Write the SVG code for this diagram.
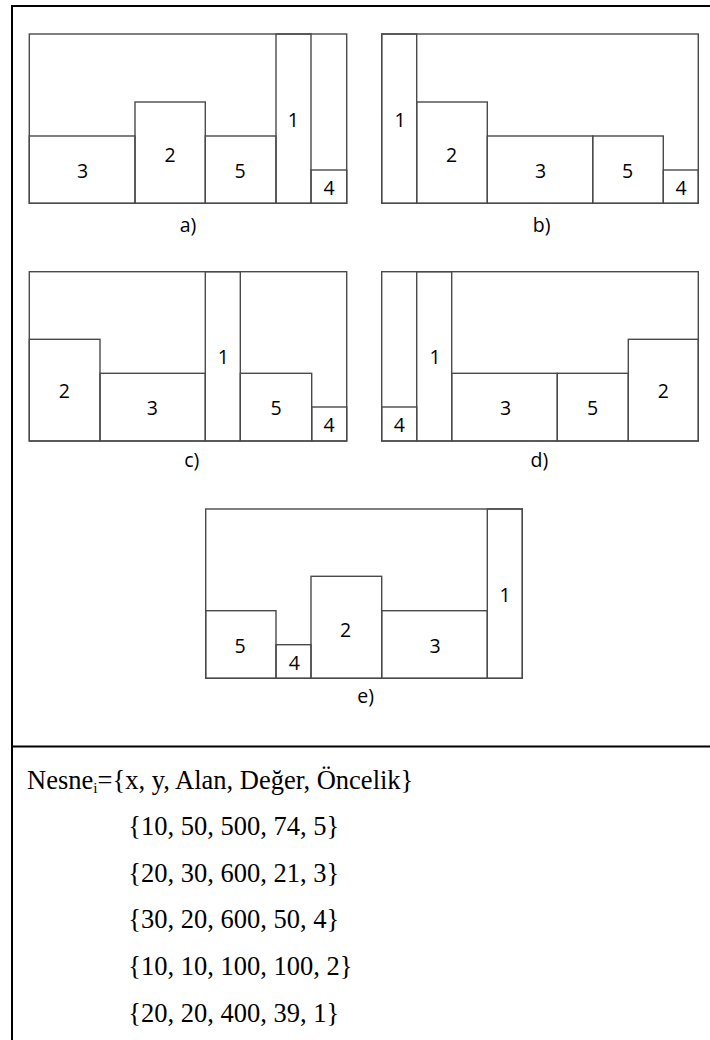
<svg xmlns="http://www.w3.org/2000/svg" width="710" height="1040" viewBox="0 0 710 1040">
  <style>
    .frame { fill: none; stroke: #000; stroke-width: 2; }
    .box { fill: none; stroke: #4a4a4a; stroke-width: 1.4; }
    .num { font-family: "Open Sans", "Liberation Sans", sans-serif; font-size: 19.5px; fill: #000; text-anchor: middle; }
    .cap { font-family: "Open Sans", "Liberation Sans", sans-serif; font-size: 19.5px; fill: #000; text-anchor: middle; }
    .data { font-family: "Liberation Serif", "Times New Roman", serif; font-size: 26.5px; fill: #000; }
  </style>
  <rect width="710" height="1040" fill="#fff"/>

  <!-- table frame -->
  <g id="frame">
    <line class="frame" x1="12" y1="6" x2="710" y2="6"/>
    <line class="frame" x1="12" y1="5" x2="12" y2="1040"/>
    <line class="frame" x1="12" y1="746.5" x2="710" y2="746.5"/>
  </g>

  <!-- layout a -->
  <g id="layout-a">
    <rect class="box" x="29.3" y="34" width="317.4" height="169.3"/>
    <rect class="box" x="29.3" y="136" width="105.7" height="67.3"/>
    <rect class="box" x="135" y="102" width="70.3" height="101.3"/>
    <rect class="box" x="205.3" y="136" width="70.7" height="67.3"/>
    <rect class="box" x="276" y="34" width="35" height="169.3"/>
    <rect class="box" x="311" y="170" width="35.7" height="33.3"/>
    <text class="num" x="82.7" y="178">3</text>
    <text class="num" x="170" y="161.7">2</text>
    <text class="num" x="240" y="178">5</text>
    <text class="num" x="293.3" y="127">1</text>
    <text class="num" x="329" y="195">4</text>
    <text class="cap" x="188" y="232">a)</text>
  </g>

  <!-- layout b -->
  <g id="layout-b">
    <rect class="box" x="381.7" y="34" width="316.6" height="169.3"/>
    <rect class="box" x="381.7" y="34" width="35" height="169.3"/>
    <rect class="box" x="416.7" y="102" width="70.6" height="101.3"/>
    <rect class="box" x="487.3" y="136" width="105.4" height="67.3"/>
    <rect class="box" x="592.7" y="136" width="70.6" height="67.3"/>
    <rect class="box" x="663.3" y="170" width="35" height="33.3"/>
    <text class="num" x="400" y="127">1</text>
    <text class="num" x="451.7" y="161.7">2</text>
    <text class="num" x="540.7" y="178">3</text>
    <text class="num" x="627.7" y="178">5</text>
    <text class="num" x="681" y="195">4</text>
    <text class="cap" x="541.7" y="232">b)</text>
  </g>

  <!-- layout c -->
  <g id="layout-c">
    <rect class="box" x="29.3" y="271.7" width="317.4" height="169.3"/>
    <rect class="box" x="29.3" y="339.3" width="70.7" height="101.7"/>
    <rect class="box" x="100" y="373.3" width="105.3" height="67.7"/>
    <rect class="box" x="205.3" y="271.7" width="35" height="169.3"/>
    <rect class="box" x="240.3" y="373.3" width="71.4" height="67.7"/>
    <rect class="box" x="311.7" y="407" width="35" height="34"/>
    <text class="num" x="64.3" y="398.3">2</text>
    <text class="num" x="152.3" y="415">3</text>
    <text class="num" x="223.3" y="364">1</text>
    <text class="num" x="276" y="415">5</text>
    <text class="num" x="329" y="432.3">4</text>
    <text class="cap" x="191.7" y="467">c)</text>
  </g>

  <!-- layout d -->
  <g id="layout-d">
    <rect class="box" x="381.7" y="271.7" width="316.6" height="169.3"/>
    <rect class="box" x="381.7" y="407" width="35" height="34"/>
    <rect class="box" x="416.7" y="271.7" width="35" height="169.3"/>
    <rect class="box" x="451.7" y="373.3" width="105.6" height="67.7"/>
    <rect class="box" x="557.3" y="373.3" width="71" height="67.7"/>
    <rect class="box" x="628.3" y="339.3" width="70" height="101.7"/>
    <text class="num" x="399.3" y="432.3">4</text>
    <text class="num" x="435" y="364">1</text>
    <text class="num" x="505.7" y="415">3</text>
    <text class="num" x="592.7" y="415">5</text>
    <text class="num" x="663.3" y="398.3">2</text>
    <text class="cap" x="539.3" y="467">d)</text>
  </g>

  <!-- layout e -->
  <g id="layout-e">
    <rect class="box" x="205.7" y="509" width="316.6" height="169.3"/>
    <rect class="box" x="205.7" y="610.7" width="70.3" height="67.6"/>
    <rect class="box" x="276" y="644.7" width="35" height="33.6"/>
    <rect class="box" x="311" y="576.3" width="70.7" height="102"/>
    <rect class="box" x="381.7" y="610.7" width="105.6" height="67.6"/>
    <rect class="box" x="487.3" y="509" width="35" height="169.3"/>
    <text class="num" x="240" y="653.3">5</text>
    <text class="num" x="294.3" y="670">4</text>
    <text class="num" x="345.7" y="636.7">2</text>
    <text class="num" x="435" y="653.3">3</text>
    <text class="num" x="505" y="602.3">1</text>
    <text class="cap" x="365.7" y="703">e)</text>
  </g>

  <!-- item records -->
  <g id="items">
    <text class="data" x="27" y="789.3">Nesne<tspan font-size="15.5" dy="4">i</tspan><tspan dy="-4">={x, y, Alan, Değer, Öncelik}</tspan></text>
    <text class="data" x="128.3" y="835">{10, 50, 500, 74, 5}</text>
    <text class="data" x="128.3" y="881.7">{20, 30, 600, 21, 3}</text>
    <text class="data" x="128.3" y="928.3">{30, 20, 600, 50, 4}</text>
    <text class="data" x="128.3" y="975">{10, 10, 100, 100, 2}</text>
    <text class="data" x="128.3" y="1021.7">{20, 20, 400, 39, 1}</text>
  </g>
</svg>
